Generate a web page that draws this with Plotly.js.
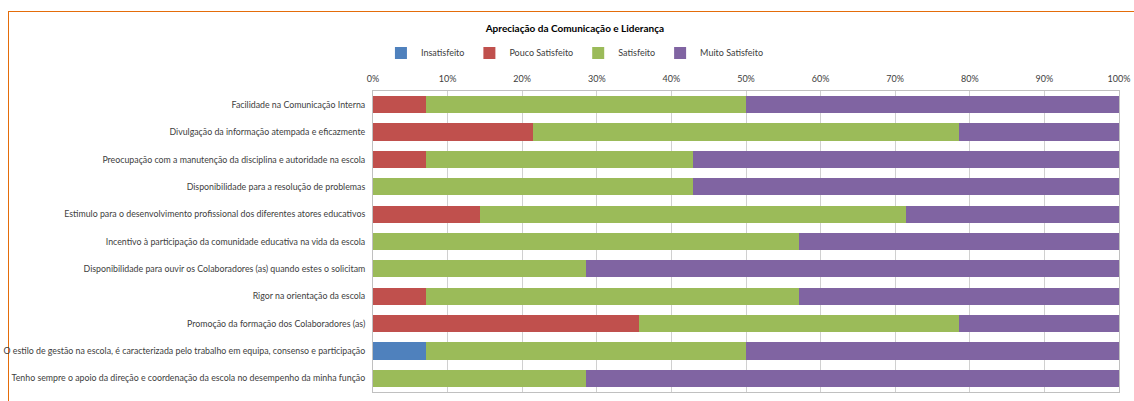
<!DOCTYPE html>
<html><head><meta charset="utf-8">
<script src="https://cdn.plot.ly/plotly-3.0.1.min.js"></script>
<style>
html,body{margin:0;padding:0;background:#fff;overflow:hidden;}
#frame{position:absolute;left:8px;top:11px;width:1200px;height:500px;border-left:1.5px solid #E46C0A;border-top:1.5px solid #E46C0A;}
#chart{position:absolute;left:0;top:0;width:1134px;height:401px;}
</style></head>
<body>
<div id="frame"></div>
<div id="chart"></div>
<script>
const categories = [
  "Facilidade na Comunicação Interna",
  "Divulgação da informação atempada e eficazmente",
  "Preocupação com a manutenção da disciplina e autoridade na escola",
  "Disponibilidade para a resolução de problemas",
  "Estimulo para o desenvolvimento profissional dos diferentes atores educativos",
  "Incentivo à participação da comunidade educativa na vida da escola",
  "Disponibilidade para ouvir os Colaboradores (as) quando estes o solicitam",
  "Rigor na orientação da escola",
  "Promoção da formação dos Colaboradores (as)",
  "O estilo de gestão na escola, é caracterizada pelo trabalho em equipa, consenso e participação",
  "Tenho sempre o apoio da direção e coordenação da escola no desempenho da minha função"
];
const insatisfeito    = [0, 0, 0, 0, 0, 0, 0, 0, 0, 7.1, 0];
const poucoSatisfeito = [7.1, 21.4, 7.1, 0, 14.3, 0, 0, 7.1, 35.7, 0, 0];
const satisfeito      = [42.9, 57.1, 35.7, 42.9, 57.1, 57.1, 28.6, 50.0, 42.9, 42.9, 28.6];
const muitoSatisfeito = [50.0, 21.4, 57.1, 57.1, 28.6, 42.9, 71.4, 42.9, 21.4, 50.0, 71.4];
const seriesNames = ["Insatisfeito", "Pouco Satisfeito", "Satisfeito", "Muito Satisfeito"];
const tickVals = [0,10,20,30,40,50,60,70,80,90,100];
const tickText = ["0%","10%","20%","30%","40%","50%","60%","70%","80%","90%","100%"];

const colors = ["#4F81BD", "#C0504D", "#9BBB59", "#8064A2"];
const data = [insatisfeito, poucoSatisfeito, satisfeito, muitoSatisfeito].map((vals, i) => ({
  type: "bar", orientation: "h", name: seriesNames[i],
  x: vals, y: categories, marker: {color: colors[i]}
}));

const font = "Lato, sans-serif";
const layout = {
  width: 1134, height: 401,
  margin: {l: 373, r: 15, t: 91, b: 9, pad: 0},
  barmode: "stack", barnorm: "percent", bargap: 0.37,
  paper_bgcolor: "rgba(0,0,0,0)", plot_bgcolor: "#fff",
  font: {family: font, size: 9, color: "#404040"},
  title: {text: "<b>Apreciação da Comunicação e Liderança</b>", x: 0.507, xref: "container", xanchor: "center",
          y: 0.928, yref: "container", yanchor: "middle",
          font: {family: font, size: 10, color: "#000"}},
  showlegend: true,
  legend: {orientation: "h", x: 0.507, xref: "container", xanchor: "center", y: 0.868, yref: "container", yanchor: "middle",
           font: {family: font, size: 9, color: "#404040"}, traceorder: "normal", itemwidth: 30},
  xaxis: {side: "top", range: [0, 100], tickvals: tickVals, ticktext: tickText, showgrid: true,
          gridcolor: "#D0D0D0", gridwidth: 1, showline: true, mirror: true, linecolor: "#C0C0C0",
          zeroline: false, ticks: "", ticklabelstandoff: 4, fixedrange: true, tickfont: {size: 9, color: "#404040"}},
  yaxis: {autorange: "reversed", showline: true, mirror: true, linecolor: "#C0C0C0", showgrid: false,
          ticks: "", ticklen: 0, ticklabelstandoff: 5, tickfont: {size: 8.8, color: "#404040"}, automargin: false}
};
Plotly.newPlot("chart", data, layout, {displayModeBar: false, staticPlot: true});
</script>
</body></html>
